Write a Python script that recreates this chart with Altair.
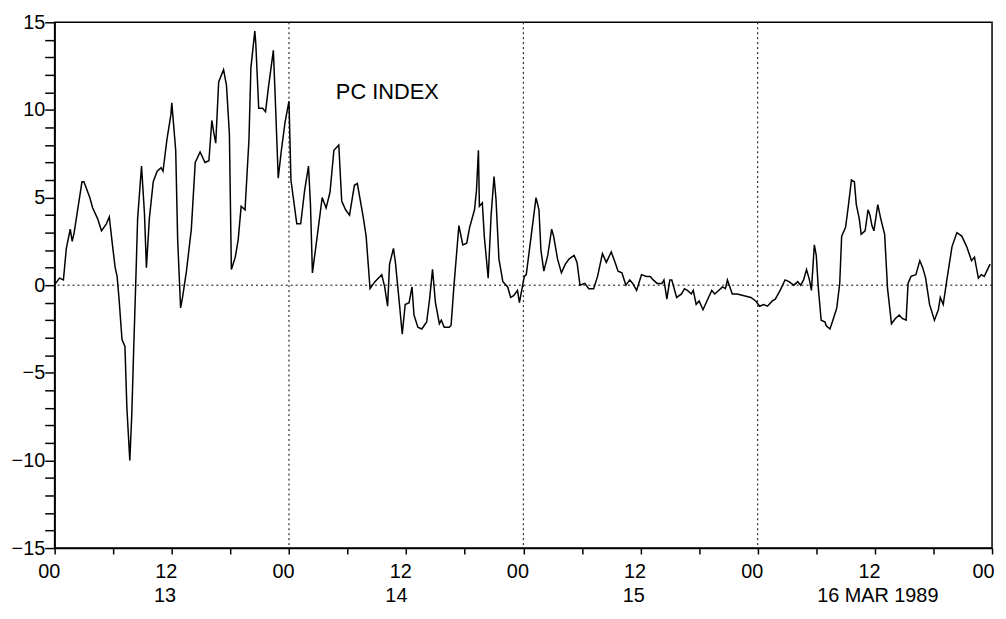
import altair as alt
import pandas as pd

# hours since 00 UT 13 March 1989
hours = [0.1, 0.5, 0.9, 1.2, 1.6, 1.8, 2.0, 2.8, 3.0, 3.6, 3.9, 4.4, 4.8, 5.3, 5.6, 5.9,
         6.2, 6.4, 6.6, 6.9, 7.2, 7.4, 7.7, 7.9, 8.1, 8.3, 8.5, 8.9, 9.2, 9.4, 9.7, 10.1,
         10.5, 10.9, 11.1, 11.5, 11.9, 12.0, 12.4, 12.6, 12.9, 13.1, 13.5, 14.0, 14.4, 14.9,
         15.4, 15.8, 16.1, 16.3, 16.5, 16.8, 17.3, 17.6, 17.9, 18.1, 18.5, 18.8, 19.1, 19.5,
         19.9, 20.1, 20.5, 20.6, 20.9, 21.3, 21.6, 21.9, 22.4, 22.6, 22.9, 23.2, 23.6, 24.0,
         24.2, 24.8, 25.2, 25.6, 26.0, 26.2, 26.4, 26.8, 27.4, 27.8, 28.2, 28.6, 29.1, 29.4,
         29.8, 30.2, 30.7, 31.0, 31.6, 31.9, 32.3, 32.8, 33.5, 33.8, 34.1, 34.3, 34.7, 34.9,
         35.3, 35.6, 35.9, 36.3, 36.6, 36.8, 37.2, 37.6, 38.1, 38.4, 38.7, 39.0, 39.4, 39.6,
         39.9, 40.4, 40.6, 40.9, 41.4, 41.8, 42.2, 42.5, 43.0, 43.2, 43.4, 43.5, 43.8, 44.0,
         44.4, 44.7, 45.0, 45.2, 45.5, 45.9, 46.4, 46.7, 47.0, 47.4, 47.6, 48.1, 48.3, 48.8,
         49.3, 49.6, 49.8, 50.1, 50.5, 50.9, 51.1, 51.5, 51.9, 52.3, 52.7, 53.2, 53.5, 53.8,
         54.3, 54.7, 55.2, 55.6, 56.1, 56.5, 57.0, 57.4, 57.7, 58.1, 58.5, 58.9, 59.2, 59.6,
         60.1, 60.6, 61.0, 61.3, 61.7, 62.2, 62.4, 62.7, 63.0, 63.2, 63.7, 64.2, 64.5, 64.8,
         65.2, 65.4, 65.7, 66.0, 66.4, 66.8, 67.3, 67.6, 68.0, 68.4, 68.7, 68.9, 69.4, 69.9,
         70.6, 71.3, 71.8, 72.2, 72.6, 73.0, 73.5, 73.8, 74.3, 74.8, 75.2, 75.7, 76.1, 76.4,
         76.7, 77.0, 77.3, 77.5, 77.8, 78.0, 78.2, 78.5, 78.9, 79.0, 79.4, 79.7, 80.1, 80.4,
         80.6, 81.0, 81.3, 81.6, 81.9, 82.1, 82.4, 82.6, 83.0, 83.3, 83.5, 83.7, 83.9, 84.3,
         84.6, 85.0, 85.3, 85.7, 86.1, 86.5, 86.8, 87.2, 87.4, 87.7, 88.2, 88.6, 88.9, 89.2,
         89.6, 90.1, 90.5, 90.7, 91.0, 91.4, 91.9, 92.4, 92.9, 93.4, 93.9, 94.2, 94.6, 94.9,
         95.2, 95.8]

pc_index = [0.1, 0.4, 0.3, 2.1, 3.2, 2.5, 3.0, 5.9, 5.9, 5.0, 4.4, 3.8, 3.1, 3.5, 3.9, 2.4,
            1.0, 0.5, -0.8, -3.1, -3.5, -7.0, -10.0, -7.4, -3.6, 0.0, 3.8, 6.8, 4.1, 1.0, 3.8, 5.9,
            6.5, 6.7, 6.5, 8.3, 9.7, 10.4, 7.7, 2.6, -1.3, -0.7, 0.8, 3.2, 7.0, 7.6,
            7.0, 7.1, 9.4, 8.7, 8.1, 11.6, 12.3, 11.4, 8.6, 0.9, 1.6, 2.6, 4.5, 4.3,
            8.3, 12.4, 14.5, 13.8, 10.1, 10.1, 9.9, 11.3, 13.4, 10.6, 6.1, 7.6, 9.3, 10.5,
            6.0, 3.5, 3.5, 5.4, 6.8, 4.6, 0.7, 2.4, 5.0, 4.4, 5.3, 7.7, 8.0, 4.8,
            4.3, 4.0, 5.7, 5.8, 3.9, 2.8, -0.2, 0.2, 0.6, -0.1, -1.2, 1.2, 2.1, 1.3,
            -1.0, -2.8, -1.1, -1.0, -0.1, -1.7, -2.4, -2.5, -2.1, -0.8, 0.9, -1.0, -2.2, -2.0,
            -2.4, -2.4, -2.3, 0.0, 3.4, 2.3, 2.4, 3.3, 4.3, 5.4, 7.7, 4.5, 4.7, 2.8,
            0.4, 4.0, 6.2, 4.9, 1.5, 0.2, -0.1, -0.7, -0.6, -0.3, -1.0, 0.5, 0.6, 2.8,
            5.0, 4.3, 2.0, 0.8, 1.7, 3.2, 2.8, 1.5, 0.7, 1.2, 1.5, 1.7, 1.3, 0.0,
            0.1, -0.2, -0.2, 0.5, 1.8, 1.3, 1.9, 1.3, 0.8, 0.7, 0.0, 0.3, 0.1, -0.3,
            0.6, 0.5, 0.5, 0.3, 0.1, 0.1, 0.3, -0.8, 0.3, 0.3, -0.7, -0.5, -0.2, -0.3,
            -0.5, -0.3, -1.1, -0.9, -1.4, -0.9, -0.3, -0.5, -0.3, -0.1, -0.2, 0.3, -0.5, -0.5,
            -0.6, -0.7, -0.9, -1.2, -1.1, -1.2, -0.9, -0.8, -0.3, 0.3, 0.2, 0.0, 0.2, 0.0,
            0.3, 0.9, 0.3, -0.3, 2.3, 1.7, -0.1, -2.0, -2.1, -2.3, -2.5, -2.0, -1.3, 0.1,
            2.8, 3.3, 4.6, 6.0, 5.9, 4.6, 3.8, 2.9, 3.1, 4.3, 4.0, 3.4, 3.1, 4.6,
            3.8, 2.9, -0.2, -2.2, -1.9, -1.7, -1.9, -2.0, 0.1, 0.5, 0.6, 1.4, 1.0, 0.4,
            -1.1, -2.0, -1.4, -0.7, -1.1, 0.4, 2.2, 3.0, 2.8, 2.2, 1.4, 1.6, 0.4, 0.6,
            0.5, 1.2]

day_bounds = [24, 48, 72]
day_label_hours = [11.3, 35, 59.3, 84.3]
day_labels = ["13", "14", "15", "16 MAR  1989"]
title_text = ["PC INDEX"]
title_hour = [28.8]
title_value = [11.0]

FONT = "Liberation Sans"

df = pd.DataFrame({"hour": hours, "pc": pc_index})
bounds_df = pd.DataFrame({"hour": day_bounds})
zero_df = pd.DataFrame({"pc": [0]})
days_df = pd.DataFrame({"hour": day_label_hours, "label": day_labels})
title_df = pd.DataFrame({"hour": title_hour, "pc": title_value, "label": title_text})

xscale = alt.Scale(domain=[0, 96], nice=False, zero=False)
yscale = alt.Scale(domain=[-15, 15], nice=False)

x_axis = alt.Axis(
    values=list(range(0, 97, 6)),
    labelExpr="datum.value % 24 == 0 ? '00' : (datum.value % 12 == 0 ? '12' : '')",
    title=None, grid=False, tickSize=6, tickColor="black", tickWidth=1.5,
    domainColor="black", domainWidth=1.5, labelFont=FONT, labelFontSize=20,
    labelColor="black", labelPadding=8, labelFlush=False, labelOverlap=False,
    labelAlign={"condition": {"test": "datum.value == 96", "value": "right"}, "value": "center"},
    labelOffset={"condition": {"test": "datum.value == 96", "value": 2}, "value": -6},
)
y_axis = alt.Axis(
    values=list(range(-15, 16)),
    labelExpr="(datum.value % 5 == 0) ? format(datum.value, 'd') : ''",
    title=None, grid=False, tickSize=10, tickColor="black", tickWidth=1.5,
    domainColor="black", domainWidth=1.5, labelFont=FONT, labelFontSize=20,
    labelColor="black", labelPadding=0, labelFlush=False, labelOverlap=False,
)

X = alt.X("hour:Q", scale=xscale, axis=x_axis)
Y = alt.Y("pc:Q", scale=yscale, axis=y_axis)

line = alt.Chart(df).mark_line(color="black", strokeWidth=1.5).encode(x=X, y=Y)

vlines = alt.Chart(bounds_df).mark_rule(color="black", strokeWidth=1, strokeDash=[2, 3]).encode(x=X)
zline = alt.Chart(zero_df).mark_rule(color="black", strokeWidth=1, strokeDash=[2, 3]).encode(y=Y)

days = alt.Chart(days_df).mark_text(
    font=FONT, fontSize=20, color="black", baseline="middle", align="center"
).encode(
    x=X,
    y=alt.value(578),
    text="label:N",
)

title = alt.Chart(title_df).mark_text(
    font=FONT, fontSize=22, color="black", baseline="middle", align="left"
).encode(x=X, y=Y, text="label:N")

chart = alt.layer(line, vlines, zline, title, days).properties(
    width=945, height=530,
    autosize=alt.AutoSizeParams(type="none"),
    padding={"left": 47, "top": 12, "right": 6, "bottom": 56},
    background="white",
).configure_view(stroke="black", strokeWidth=1.5)

chart.save("out.html", embed_options={"renderer": "svg", "actions": False})
